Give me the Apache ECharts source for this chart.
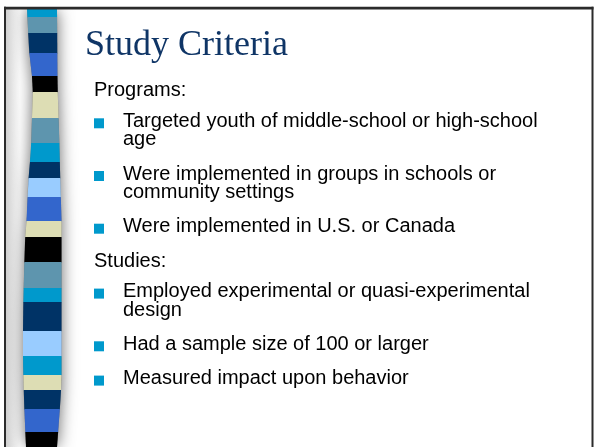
<!DOCTYPE html>
<html><head><meta charset="utf-8">
<script src="https://cdn.jsdelivr.net/npm/echarts@6/dist/echarts.min.js"></script>
<style>html,body{margin:0;padding:0;background:#fff}#c{width:594px;height:447px}</style>
</head><body><div id="c"></div>
<script>
// ---- content ----
const titleText = 'Study Criteria';
const sectionHeads = ['Programs:', 'Studies:'];
const programItems = [
  ['Targeted youth of middle-school or high-school', 'age'],
  ['Were implemented in groups in schools or', 'community settings'],
  ['Were implemented in U.S. or Canada']
];
const studyItems = [
  ['Employed experimental or quasi-experimental', 'design'],
  ['Had a sample size of 100 or larger'],
  ['Measured impact upon behavior']
];
// decorative stripe: band boundaries (slide units) and band colour names
const bandEdges = [8,17,33,53,76,92,118,143,162,178,197,221,237,262,288,302,331,356,375,390,409,432,447];
const bandColors = ['cyan','steel','navy','blue','black','beige','steel','cyan','navy','sky','blue',
                    'beige','black','steel','cyan','navy','sky','cyan','beige','navy','blue','black'];

// ---- styles / layout ----
const palette = {cyan:'#0099CC', steel:'#5E95AE', navy:'#003366', blue:'#3366CC',
                 black:'#000000', beige:'#DDDDB4', sky:'#99CCFF'};
const leftProfile  = [[0,27],[8,27],[50,29],[85,33],[150,31],[185,28],[215,27],[240,25],[275,24],[320,23],[360,23],[400,24],[447,26]];
const rightProfile = [[0,57],[8,57],[85,57.5],[130,59],[170,60],[220,61.5],[380,61.5],[400,60.5],[420,59],[447,57]];
function edgeAt(profile, y) {
  for (let i = 1; i < profile.length; i++) {
    const [y0, x0] = profile[i-1], [y1, x1] = profile[i];
    if (y <= y1) return x0 + (x1 - x0) * (y - y0) / (y1 - y0);
  }
  return profile[profile.length-1][1];
}

const bandData = bandColors.map((c, i) => ({
  value: [bandEdges[i], bandEdges[i+1]],
  itemStyle: {color: palette[c]}
}));

const bodyFont = '20px "Liberation Sans", Arial, sans-serif';
const titleFont = '36px "Liberation Serif", "Times New Roman", serif';
const midOff = 0.3465 * 20;
const lineH = 18.4, paraGap = 34.3, headGap = 30.6;
const headX = 94, bulletX = 94, itemX = 123;

const graphics = [];
// shadow behind stripe
const outline = [];
for (let y = 8; y <= 447; y += 4) outline.push([edgeAt(leftProfile, y), y]);
for (let y = 447; y >= 8; y -= 4) outline.push([edgeAt(rightProfile, y), y]);
graphics.push({type:'rect', z:0, shape:{x:6, y:9, width:14, height:440},
  style:{fill:{type:'linear', x:0, y:0, x2:1, y2:0, colorStops:[{offset:0,color:'#d0d0d0'},{offset:1,color:'#ffffff'}]}}});
graphics.push({type:'polygon', z:0, shape:{points: outline},
  style:{fill:'#777', shadowBlur:16, shadowColor:'rgba(0,0,0,0.6)'}});
// mask + frame
graphics.push({type:'rect', z:50, shape:{x:0, y:0, width:594, height:7}, style:{fill:'#fff'}});
graphics.push({type:'rect', z:50, shape:{x:0, y:0, width:4, height:447}, style:{fill:'#fff'}});
graphics.push({type:'rect', z:51, shape:{x:4, y:6.8, width:589.5, height:2.6}, style:{fill:'#2b2b2b'}});
graphics.push({type:'rect', z:51, shape:{x:4, y:6.8, width:2, height:441}, style:{fill:'#2b2b2b'}});
graphics.push({type:'rect', z:51, shape:{x:591.5, y:6.8, width:2, height:441}, style:{fill:'#2b2b2b'}});

// title
graphics.push({type:'text', z:60, x:85, y:57.5 - 0.3375*36,
  style:{text:titleText, font:titleFont, fill:'#0F3566', verticalAlign:'middle', align:'left'}});

let base = 97.7;
function addLine(text, x, y) {
  graphics.push({type:'text', z:60, x:x, y:y - midOff,
    style:{text:text, font:bodyFont, fill:'#000', verticalAlign:'middle', align:'left'}});
}
function addBlock(head, items, first) {
  if (!first) base += paraGap;
  addLine(head, headX, base);
  base += headGap;
  items.forEach((lines, i) => {
    if (i > 0) base += paraGap;
    graphics.push({type:'rect', z:60, shape:{x:bulletX, y:base - 10, width:10, height:10}, style:{fill:'#0099CC'}});
    lines.forEach((t, j) => { if (j > 0) base += lineH; addLine(t, itemX, base); });
  });
}
addBlock(sectionHeads[0], programItems, true);
addBlock(sectionHeads[1], studyItems, false);

const chart = echarts.init(document.getElementById('c'), null, {renderer:'canvas'});
chart.setOption({
  animation: false,
  backgroundColor: '#ffffff',
  grid: {left:0, right:0, top:0, bottom:0},
  xAxis: {type:'value', min:0, max:594, show:false},
  yAxis: {type:'value', min:0, max:447, inverse:true, show:false},
  series: [{
    type: 'custom',
    z: 5,
    data: bandData,
    renderItem: function (params, api) {
      const y0 = api.value(0), y1 = api.value(1) + 0.5;
      const pts = [[edgeAt(leftProfile, y0), y0], [edgeAt(rightProfile, y0), y0],
                   [edgeAt(rightProfile, y1), y1], [edgeAt(leftProfile, y1), y1]].map(p => api.coord(p));
      return {type:'polygon', shape:{points: pts}, style:{fill: api.visual('color')}};
    }
  }],
  graphic: graphics
});
</script>
</body></html>
